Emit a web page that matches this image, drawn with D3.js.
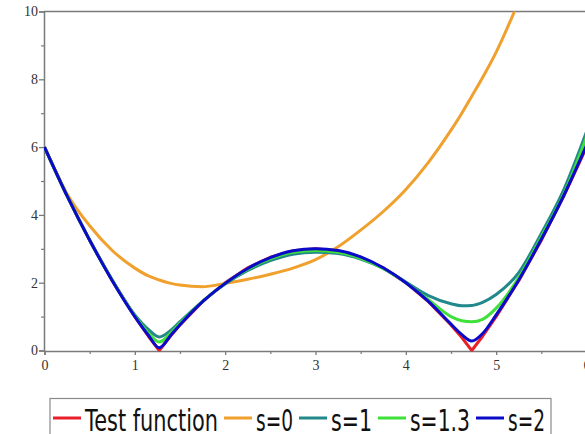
<!DOCTYPE html>
<html>
<head>
<meta charset="utf-8">
<script src="https://cdn.jsdelivr.net/npm/d3@7"></script>
<style>
  body { margin: 0; background: #fff; }
  svg { display: block; }
</style>
</head>
<body>
<svg width="585" height="434"></svg>
<script>
// sample positions along x
const xs = [0, 0.25, 0.5, 0.75, 1, 1.15, 1.27, 1.4, 1.5, 1.75, 2, 2.25, 2.5, 2.75, 3,
            3.25, 3.5, 3.75, 4, 4.25, 4.5, 4.62, 4.73, 4.85, 5, 5.25, 5.5, 5.75, 6];

const testFn = [6, 4.56, 3.25, 2.06, 1.0, 0.42, 0, 0.44, 0.75, 1.44, 2.0, 2.44, 2.75, 2.94, 3.0,
                2.94, 2.75, 2.44, 2.0, 1.44, 0.75, 0.38, 0, 0.42, 1.0, 2.06, 3.25, 4.56, 6];
const s0 = [6, 4.62, 3.68, 2.95, 2.43, 2.2, 2.08, 1.98, 1.93, 1.88, 1.98, 2.1, 2.25, 2.43, 2.68,
            3.06, 3.55, 4.1, 4.75, 5.55, 6.5, 7.0, 7.5, 8.05, 8.8, 10.3, null, null, null];
const s1 = [6, 4.56, 3.26, 2.08, 1.05, 0.62, 0.4, 0.6, 0.85, 1.45, 1.96, 2.36, 2.65, 2.84, 2.9,
            2.86, 2.7, 2.42, 2.02, 1.62, 1.38, 1.32, 1.33, 1.42, 1.65, 2.3, 3.45, 4.75, 6.45];
const s13 = [6, 4.56, 3.25, 2.07, 1.02, 0.52, 0.25, 0.52, 0.8, 1.45, 1.98, 2.4, 2.7, 2.9, 2.95,
             2.9, 2.72, 2.42, 2.0, 1.5, 1.0, 0.88, 0.85, 0.92, 1.25, 2.15, 3.35, 4.62, 6.3];
const s2 = [6, 4.56, 3.25, 2.06, 1.0, 0.45, 0.08, 0.46, 0.76, 1.44, 1.98, 2.42, 2.74, 2.94, 3.0,
            2.95, 2.76, 2.44, 2.0, 1.45, 0.78, 0.47, 0.28, 0.5, 1.05, 2.08, 3.28, 4.58, 6.05];

const seriesNames = ["Test function", "s=0", "s=1", "s=1.3", "s=2"];
const seriesValues = [testFn, s0, s1, s13, s2];
const seriesColors = ["#e8202a", "#f0a02c", "#23888a", "#3fe03a", "#0a0ac8"];

const xTicks = [0, 1, 2, 3, 4, 5, 6];
const yTicks = [0, 2, 4, 6, 8, 10];

const svg = d3.select("svg");
const x = d3.scaleLinear().domain([0, 6]).range([44.5, 586.5]);
const y = d3.scaleLinear().domain([0, 10]).range([350.5, 11.5]);

const axisColor = "#7a7a7a";
const labelFont = "'Liberation Serif', 'DejaVu Serif', serif";

// clip the curves to the plot box
svg.append("clipPath").attr("id", "plotclip")
  .append("rect")
  .attr("x", 44).attr("y", 11.5)
  .attr("width", 560).attr("height", 340);

// ===== axes =====
const xAxis = d3.axisBottom(x).tickValues(xTicks).tickSize(4).tickFormat(d3.format("d"));
const gx = svg.append("g").attr("transform", "translate(0,351)").call(xAxis);
gx.select(".domain").attr("stroke", axisColor).attr("stroke-width", 1.5);
gx.selectAll(".tick line").attr("stroke", axisColor).attr("stroke-width", 1.3);
gx.selectAll(".tick text")
  .attr("font-family", labelFont).attr("font-size", 14).attr("fill", "#333").attr("dy", "0.85em");

const xMinor = d3.axisBottom(x).tickValues(d3.range(0.5, 6, 1)).tickSize(3).tickFormat("");
const gxm = svg.append("g").attr("transform", "translate(0,351)").call(xMinor);
gxm.select(".domain").remove();
gxm.selectAll(".tick line").attr("stroke", axisColor).attr("stroke-width", 1.2);

const yAxis = d3.axisLeft(y).tickValues(yTicks).tickSize(5).tickFormat(d3.format("d"));
const gy = svg.append("g").attr("transform", "translate(44,0)").call(yAxis);
gy.select(".domain").attr("stroke", axisColor).attr("stroke-width", 1.5);
gy.selectAll(".tick line").attr("stroke", axisColor).attr("stroke-width", 1.3);
gy.selectAll(".tick text")
  .attr("font-family", labelFont).attr("font-size", 14).attr("fill", "#333").attr("x", -6);

const yMinor = d3.axisLeft(y).tickValues(d3.range(1, 10, 2)).tickSize(3).tickFormat("");
const gym = svg.append("g").attr("transform", "translate(44,0)").call(yMinor);
gym.select(".domain").remove();
gym.selectAll(".tick line").attr("stroke", axisColor).attr("stroke-width", 1.2);

// top frame line
svg.append("line")
  .attr("x1", 44).attr("x2", 585)
  .attr("y1", y(10)).attr("y2", y(10))
  .attr("stroke", axisColor).attr("stroke-width", 1.5);

// ===== curves =====
const plot = svg.append("g").attr("clip-path", "url(#plotclip)");

seriesValues.forEach((vals, i) => {
  const pts = xs.map((xv, j) => [xv, vals[j]]);
  const line = d3.line()
    .defined(d => d[1] != null)
    .x(d => x(d[0]))
    .y(d => y(d[1]))
    .curve(i === 0 ? d3.curveLinear : d3.curveMonotoneX);
  plot.append("path")
    .datum(pts)
    .attr("d", line)
    .attr("fill", "none")
    .attr("stroke", seriesColors[i])
    .attr("stroke-width", 3)
    .attr("stroke-linejoin", "round");
});

// ===== legend =====
const legendWidths = [133, 37, 41, 60, 37];
const legend = svg.append("g");
legend.append("rect")
  .attr("x", 50).attr("y", 398.5)
  .attr("width", 501).attr("height", 60)
  .attr("fill", "#fff").attr("stroke", "#8a8a8a").attr("stroke-width", 1.2);

let cx = 53;
seriesNames.forEach((name, i) => {
  legend.append("line")
    .attr("x1", cx).attr("x2", cx + 28)
    .attr("y1", 418).attr("y2", 418)
    .attr("stroke", seriesColors[i]).attr("stroke-width", 3);
  legend.append("text")
    .attr("x", cx + 32).attr("y", 431)
    .attr("font-family", "'DejaVu Sans', sans-serif")
    .attr("font-size", 30)
    .attr("fill", "#111")
    .attr("textLength", legendWidths[i])
    .attr("lengthAdjust", "spacingAndGlyphs")
    .text(name);
  cx += 32 + legendWidths[i] + 6;
});
</script>
</body>
</html>
